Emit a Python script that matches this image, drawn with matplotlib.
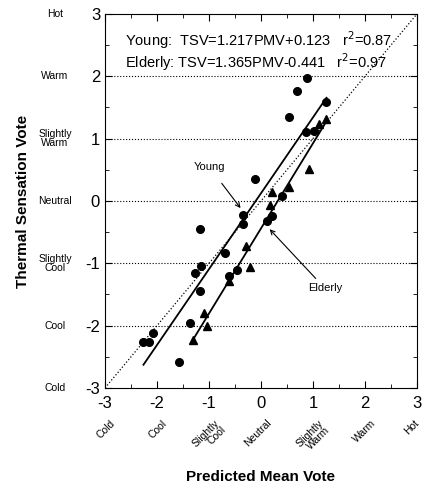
import matplotlib.pyplot as plt
import matplotlib.transforms as mtransforms
import numpy as np

plt.rcParams['font.family'] = ['Liberation Sans', 'DejaVu Sans']
plt.rcParams['axes.unicode_minus'] = False

# Young subjects (circles)
young_pmv = [0.88, 0.70, 0.53, 1.26, 0.87, 1.02, -0.12, 0.40, -0.34, -0.34, 0.11, 0.21,
             -1.17, -0.69, -1.15, -1.27, -0.47, -0.61, -1.17, -1.37, -2.08, -2.26, -2.15, -1.58]
young_tsv = [1.97, 1.77, 1.35, 1.59, 1.11, 1.13, 0.35, 0.08, -0.22, -0.37, -0.32, -0.24,
             -0.45, -0.84, -1.04, -1.15, -1.11, -1.21, -1.44, -1.95, -2.12, -2.27, -2.27, -2.59]

# Elderly subjects (triangles)
elderly_pmv = [1.12, 1.26, 0.93, 0.54, 0.21, 0.17, -0.29, -0.21, -0.61, -1.10, -1.03, -1.30]
elderly_tsv = [1.24, 1.31, 0.51, 0.23, 0.15, -0.06, -0.73, -1.06, -1.28, -1.79, -2.01, -2.23]

# regression fits
young_fit = (1.217, 0.123)
elderly_fit = (1.365, -0.441)
young_range = [-2.26, 1.26]
elderly_range = [-1.30, 1.26]

scale_vals = [-3, -2, -1, 0, 1, 2, 3]
scale_names = ['Cold', 'Cool', 'Slightly\nCool', 'Neutral', 'Slightly\nWarm', 'Warm', 'Hot']

fig = plt.figure(figsize=(4.25, 4.94), dpi=100)
ax = fig.add_axes([0.247, 0.2146, 0.734, 0.7571])

# dotted reference lines
for v in [-2, -1, 0, 1, 2]:
    ax.axhline(v, color='black', linestyle=':', linewidth=0.8)
ax.plot([-3, 3], [-3, 3], color='black', linestyle=':', linewidth=0.9)

# data
ax.plot(young_pmv, young_tsv, 'o', color='black', markersize=5.5)
ax.plot(elderly_pmv, elderly_tsv, '^', color='black', markersize=6)

xr = np.array(young_range)
ax.plot(xr, young_fit[0] * xr + young_fit[1], color='black', linewidth=1.3)
xr = np.array(elderly_range)
ax.plot(xr, elderly_fit[0] * xr + elderly_fit[1], color='black', linewidth=1.3)

ax.text(-2.62, 2.58, 'Young:  TSV=1.217PMV+0.123   r$^2$=0.87', fontsize=10.5, va='center')
ax.text(-2.62, 2.23, 'Elderly: TSV=1.365PMV-0.441   r$^2$=0.97', fontsize=10.5, va='center')

ax.annotate('Young', xy=(-0.36, -0.15), xytext=(-1.3, 0.55), fontsize=8,
            ha='left', va='center',
            arrowprops=dict(arrowstyle='->', color='black', lw=0.8, shrinkA=8))
ax.annotate('Elderly', xy=(0.13, -0.42), xytext=(0.9, -1.4), fontsize=8,
            ha='left', va='center',
            arrowprops=dict(arrowstyle='->', color='black', lw=0.8, shrinkA=2))

ax.set_xlim(-3, 3)
ax.set_ylim(-3, 3)
ax.set_xticks(scale_vals)
ax.set_yticks(scale_vals)
ax.set_xticks(np.arange(-2.5, 3, 1), minor=True)
ax.set_yticks(np.arange(-2.5, 3, 1), minor=True)
ax.tick_params(which='both', direction='in', top=True, right=True, labelsize=12)
ax.tick_params(which='major', length=5)
ax.tick_params(which='minor', length=3)
ax.tick_params(axis='x', pad=6)

# category names next to the scale numbers
ty = mtransforms.blended_transform_factory(ax.transAxes, ax.transData)
tx = mtransforms.blended_transform_factory(ax.transData, ax.transAxes)
for v, name in zip(scale_vals, scale_names):
    ax.text(-0.16, v, name, transform=ty, fontsize=7.5, ha='center', va='center',
            linespacing=0.95)
    shift = 0.1 if v < 3 else -0.06
    ax.text(v + shift, -0.08, name, transform=tx, fontsize=7.5, ha='right', va='top',
            rotation=45, rotation_mode='anchor', linespacing=0.95)

ax.set_ylabel('Thermal Sensation Vote', fontsize=11, fontweight='bold', labelpad=40)
ax.set_xlabel('Predicted Mean Vote', fontsize=11, fontweight='bold', labelpad=42)

fig.savefig('out.png', dpi=100)
